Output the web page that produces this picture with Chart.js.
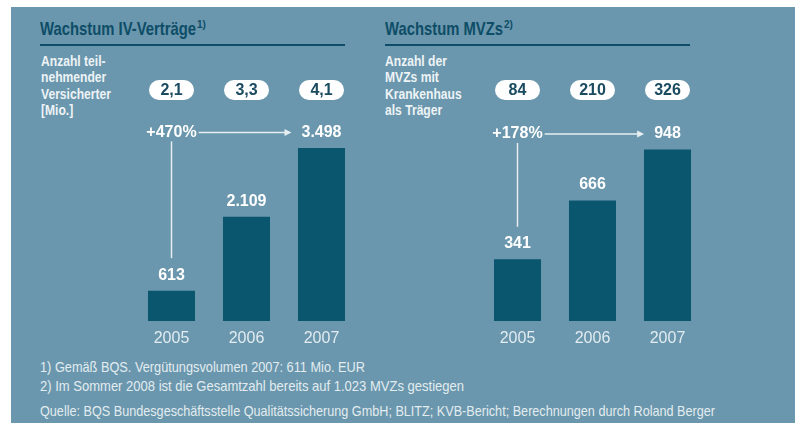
<!DOCTYPE html>
<html><head><meta charset="utf-8">
<script src="https://cdn.jsdelivr.net/npm/chart.js@4.4.1/dist/chart.umd.min.js"></script>
<style>
html,body{margin:0;padding:0;background:#fff;width:795px;height:425px;overflow:hidden;}
#panel{position:absolute;left:11px;top:7px;width:784px;height:416px;background:#6a97ad;}
.t{position:absolute;white-space:nowrap;font-family:'Liberation Sans Narrow','Liberation Sans',Arial,sans-serif;}
.fit,.fitk{display:inline-block;transform-origin:0 50%;}
.title{font-weight:bold;font-size:18.5px;line-height:18px;color:#0e4d67;}
.sup{font-weight:bold;font-size:10px;line-height:10px;color:#0e4d67;}
.rule{position:absolute;height:2px;background:#0e4d67;}
.side{font-weight:bold;font-size:15px;line-height:16.5px;color:#eef3f6;}
.foot{font-size:15px;line-height:15px;color:#e3ecf0;}
canvas{position:absolute;left:0;top:0;}
</style></head><body>
<div id="panel"></div>
<div class="t title" style="left:40px;top:19.7px"><span class="fit" data-w="156">Wachstum IV-Verträge</span></div>
<div class="t sup" style="left:197px;top:20px">1)</div>
<div class="rule" style="left:40px;top:44px;width:305px"></div>
<div class="t title" style="left:385px;top:19.7px"><span class="fit" data-w="118">Wachstum MVZs</span></div>
<div class="t sup" style="left:504px;top:20px">2)</div>
<div class="rule" style="left:385px;top:44px;width:305px"></div>

<div class="t side" style="left:41px;top:52.5px">
<span class="fitk">Anzahl teil-</span><br><span class="fitk">nehmender</span><br><span class="fitk" id="kref">Versicherter</span><br><span class="fitk">[Mio.]</span>
</div>
<div class="t side" style="left:385px;top:52.5px">
<span class="fitk">Anzahl der</span><br><span class="fitk">MVZs mit</span><br><span class="fitk">Krankenhaus</span><br><span class="fitk">als Träger</span>
</div>

<div class="t foot" style="left:40px;top:359.2px"><span class="fit" data-w="325">1) Gemäß BQS. Vergütungsvolumen 2007: 611 Mio. EUR</span></div>
<div class="t foot" style="left:40px;top:377.5px"><span class="fit" data-w="424">2) Im Sommer 2008 ist die Gesamtzahl bereits auf 1.023 MVZs gestiegen</span></div>
<div class="t foot" style="left:40px;top:402.5px"><span class="fit" data-w="675">Quelle: BQS Bundesgeschäftsstelle Qualitätssicherung GmbH; BLITZ; KVB-Bericht; Berechnungen durch Roland Berger</span></div>

<canvas id="c1" width="795" height="425"></canvas>
<canvas id="c2" width="795" height="425"></canvas>
<script>
// ---- data ----
const years = ['2005', '2006', '2007'];
const ivVersicherte = [613, 2109, 3498];      // IV-Verträge (Tsd.)
const ivVersicherteMio = [2.1, 3.3, 4.1];     // teilnehmende Versicherte [Mio.]
const mvzKrankenhaus = [341, 666, 948];       // MVZs
const mvzMitKrankenhaus = [84, 210, 326];     // MVZs mit Krankenhaus als Träger
const growthLabels = ['+470%', '+178%'];

// ---- text fitting ----
document.querySelectorAll('.fit').forEach(el => {
  const w = el.getBoundingClientRect().width;
  el.style.transform = 'scaleX(' + (parseFloat(el.dataset.w) / w) + ')';
});
(function(){
  const ref = document.getElementById('kref');
  const k = 70 / ref.getBoundingClientRect().width;
  document.querySelectorAll('.fitk').forEach(el => el.style.transform = 'scaleX(' + k + ')');
})();

function fmtDE(v) {
  let s = String(v);
  let [i, d] = s.split('.');
  i = i.replace(/\B(?=(\d{3})+(?!\d))/g, '.');
  return d ? i + ',' + d : i;
}

function annotations(pills, growth) {
  return {
    id: 'ann',
    afterDatasetsDraw(chart) {
      const ctx = chart.ctx;
      const meta = chart.getDatasetMeta(0);
      const data = chart.data.datasets[0].data;
      ctx.save();
      ctx.font = 'bold 16px "Liberation Sans", Arial, sans-serif';
      ctx.textAlign = 'center';
      ctx.textBaseline = 'middle';
      meta.data.forEach((bar, i) => {
        const x = bar.x;
        const pw = 45, ph = 20, py = 90;
        ctx.fillStyle = '#ffffff';
        ctx.beginPath();
        ctx.roundRect(x - pw / 2, py - ph / 2, pw, ph, 10);
        ctx.fill();
        ctx.fillStyle = '#1b4b61';
        ctx.fillText(fmtDE(pills[i]), x, py + 1);
        ctx.fillStyle = '#ffffff';
        ctx.fillText(fmtDE(data[i]), x, bar.y - 15.5);
      });
      const b0 = meta.data[0], b2 = meta.data[meta.data.length - 1];
      const ay = b2.y - 15.5;
      ctx.fillStyle = '#ffffff';
      ctx.fillText(growth, b0.x, ay);
      const gw = ctx.measureText(growth).width;
      const vw = ctx.measureText(fmtDE(data[data.length - 1])).width;
      ctx.strokeStyle = '#e6eef2';
      ctx.fillStyle = '#e6eef2';
      ctx.lineWidth = 1.5;
      const x1 = b0.x + gw / 2 + 2, x2 = b2.x - vw / 2 - 10;
      ctx.beginPath(); ctx.moveTo(x1, ay); ctx.lineTo(x2 - 6, ay); ctx.stroke();
      ctx.beginPath(); ctx.moveTo(x2, ay); ctx.lineTo(x2 - 7, ay - 3.5); ctx.lineTo(x2 - 7, ay + 3.5); ctx.closePath(); ctx.fill();
      ctx.beginPath(); ctx.moveTo(b0.x, ay + 9); ctx.lineTo(b0.x, b0.y - 15.5 - 17); ctx.stroke();
      ctx.restore();
    }
  };
}

function makeChart(id, values, pills, growth, padL, padR, yMax) {
  return new Chart(document.getElementById(id), {
    type: 'bar',
    data: { labels: years, datasets: [{ data: values, backgroundColor: '#0b566f', borderWidth: 0, categoryPercentage: 0.627, barPercentage: 1 }] },
    options: {
      responsive: false, animation: false, devicePixelRatio: 1,
      layout: { padding: { left: padL, right: padR, top: 131, bottom: 74 } },
      plugins: { legend: { display: false }, tooltip: { enabled: false } },
      scales: {
        x: {
          grid: { display: false, drawTicks: false }, border: { display: false },
          ticks: { color: '#e2ecf1', font: { family: 'Liberation Sans', size: 16 }, padding: 8 },
          afterFit(s) { s.height = 30; }
        },
        y: { display: false, min: 0, max: yMax }
      }
    },
    plugins: [annotations(pills, growth)]
  });
}

makeChart('c1', ivVersicherte, ivVersicherteMio, growthLabels[0], 134, 436, 3840);
makeChart('c2', mvzKrankenhaus, mvzMitKrankenhaus, growthLabels[1], 480, 90, 1050);
</script>
</body></html>
